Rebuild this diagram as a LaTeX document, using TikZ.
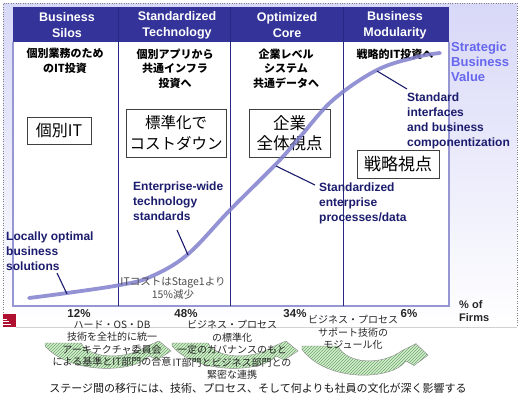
\documentclass[tikz,border=0pt]{standalone}
\usepackage{fontspec}
\newfontfamily\lat{Liberation Sans}
\newfontfamily\jp{Noto Sans CJK JP}
\usetikzlibrary{patterns}
\definecolor{hdr}{RGB}{51,51,153}
\definecolor{navy}{RGB}{28,28,110}
\definecolor{svblue}{RGB}{102,102,238}
\definecolor{curvec}{RGB}{128,128,205}
\definecolor{lav}{RGB}{216,216,248}
\definecolor{framec}{RGB}{150,150,210}
\definecolor{divc}{RGB}{40,40,130}
\definecolor{arrowg}{RGB}{212,240,205}
\definecolor{hatchg}{RGB}{110,165,110}
\definecolor{logoc}{RGB}{176,16,48}
\tikzset{
  hdrtext/.style={text=white, font=\lat\bfseries\fontsize{12.5}{16}\selectfont, align=center, inner sep=0},
  jpcol/.style={font=\jp\bfseries\fontsize{11}{14.5}\selectfont, align=center, inner sep=0},
  jpbox/.style={draw=black!75, fill=white, line width=0.8, align=center, inner sep=0},
  note/.style={text=navy, font=\lat\bfseries\fontsize{12}{15}\selectfont, align=left, inner sep=0, anchor=west},
  pct/.style={font=\lat\bfseries\fontsize{11.5}{13}\selectfont, text=black!85, inner sep=0},
  ptr/.style={navy, line width=1.1},
  smalljp/.style={font=\jp\fontsize{10}{12.5}\selectfont, align=center, inner sep=0, text=black!85},
  bendarrow/.style={draw=black!45, line width=0.4, preaction={fill=arrowg}, pattern=north east lines, pattern color=hatchg},
  divider/.style={divc, line width=1}
}
\newcommand\bendshape{(0,0) -- (36,0) .. controls (45,16) and (80,17) .. (100,4) -- (114,-2) -- (126,8) -- (112,17) -- (104,13) .. controls (90,30) and (25,32) .. (0,3) -- cycle}
\begin{document}
\begin{tikzpicture}[x=1pt,y=-1pt]
\useasboundingbox (0,0) rectangle (521,397);
\fill[white] (0,0) rectangle (521,397);
% panel background
\shade[top color=lav, bottom color=white] (3,3) rectangle (517,327);
\draw[gray, dotted] (3,312) -- (3,3) -- (517,3) -- (517,327);
\draw[gray!35] (16,327) -- (517,327);
% logo fragment
\fill[logoc] (3,314) rectangle (16,327);
\draw[white, line width=0.6] (3,319) -- (7,319) (3,321.5) -- (9,321.5) (3,324) -- (11,324);
% chart area
\fill[white] (13,42) rectangle (449,306);
\fill[hdr] (13,7) rectangle (449,42);
\draw[framec, line width=1.2] (13,42) -- (13,306) -- (449,306) -- (449,42);
\draw[divider] (118,7) -- (118,306);
\draw[divider] (230,7) -- (230,306);
\draw[divider] (343,7) -- (343,306);
% headers
\node[hdrtext] (h1) at (67,25) {Business\\Silos};
\node[hdrtext] (h2) at (177,25) {Standardized\\Technology};
\node[hdrtext] (h3) at (287,25) {Optimized\\Core};
\node[hdrtext] (h4) at (395,25) {Business\\Modularity};
% column texts
\node[jpcol] (c1) at (65,61) {個別業務のため\\のIT投資};
\node[jpcol] (c2) at (175,68.5) {個別アプリから\\共通インフラ\\投資へ};
\node[jpcol] (c3) at (286,68.5) {企業レベル\\システム\\共通データへ};
\node[jpcol] (c4) at (395,54) {戦略的IT投資へ};
% boxes
\node[jpbox, minimum width=64, minimum height=27, font=\jp\fontsize{16}{20}\selectfont] (b1) at (59,130.5) {個別IT};
\node[jpbox, minimum width=100, minimum height=48, font=\jp\fontsize{15.5}{20.5}\selectfont] (b2) at (176,133) {標準化で\\コストダウン};
\node[jpbox, minimum width=81, minimum height=48, font=\jp\fontsize{16.5}{20.5}\selectfont] (b3) at (289.5,133) {企業\\全体視点};
\node[jpbox, minimum width=82, minimum height=28, font=\jp\fontsize{17}{20}\selectfont] (b4) at (398,164) {戦略視点};
% S-curve
\draw[curvec, line width=3.8, opacity=0.85, line cap=round] plot[smooth, tension=0.6] coordinates {(29,298) (67,293) (120,285) (150,277) (187,255) (230,210) (277,163) (300,137) (333,100) (377,70) (417,57) (440,53)};
% annotation labels
\node[note] (n1) at (6,251) {Locally optimal\\business\\solutions};
\node[note] (n2) at (133,201) {Enterprise-wide\\technology\\standards};
\node[note] (n3) at (319,203) {Standardized\\enterprise\\processes/data};
\node[note] (n4) at (407,120.5) {Standard\\interfaces\\and business\\componentization};
\node[note, text=svblue, font=\lat\bfseries\fontsize{13}{15.2}\selectfont] (sv) at (451,62) {Strategic\\Business\\Value};
% pointers
\coordinate (p1a) at (57,273); \coordinate (p1b) at (67,294);
\coordinate (p2a) at (177,230); \coordinate (p2b) at (188,255);
\coordinate (p3a) at (315,185); \coordinate (p3b) at (276,166);
\coordinate (p4a) at (407,89); \coordinate (p4b) at (377,71);
\draw[ptr] (p1a) -- (p1b);
\draw[ptr] (p2a) -- (p2b);
\draw[ptr] (p3a) -- (p3b);
\draw[ptr] (p4a) -- (p4b);
% cost note
\node[font=\jp\fontsize{10.5}{13.5}\selectfont, text=black!70, align=center, inner sep=0] (cost) at (173,288.5) {ITコストはStage1より\\15\%減少};
% percentages
\node[pct] (q1) at (79,314) {12\%};
\node[pct] (q2) at (186,314) {48\%};
\node[pct] (q3) at (295,314) {34\%};
\node[pct] (q4) at (409,314) {6\%};
\node[pct, font=\lat\bfseries\fontsize{11}{13}\selectfont, align=left, anchor=west] (firms) at (459,311.5) {\% of\\Firms};
% transition arrows
\begin{scope}[shift={(45,343)}]
\path[bendarrow] \bendshape;
\end{scope}
\begin{scope}[shift={(172,343)}]
\path[bendarrow] \bendshape;
\end{scope}
\begin{scope}[shift={(302,346)}, yscale=1.15]
\path[bendarrow] \bendshape;
\end{scope}
% bottom texts
\node[smalljp] (t1) at (112,343.5) {ハード・OS・DB\\技術を全社的に統一\\アーキテクチャ委員会\\による基準とIT部門の合意};
\node[smalljp] (t2) at (232,350) {ビジネス・プロセス\\の標準化\\一定のガバナンスのもと\\IT部門とビジネス部門との\\緊密な連携};
\node[smalljp] (t3) at (353,332.5) {ビジネス・プロセス\\サポート技術の\\モジュール化};
\node[font=\jp\fontsize{11}{13}\selectfont, inner sep=0, text=black!90] (main) at (258,388) {ステージ間の移行には、技術、プロセス、そして何よりも社員の文化が深く影響する};
\end{tikzpicture}
\end{document}
